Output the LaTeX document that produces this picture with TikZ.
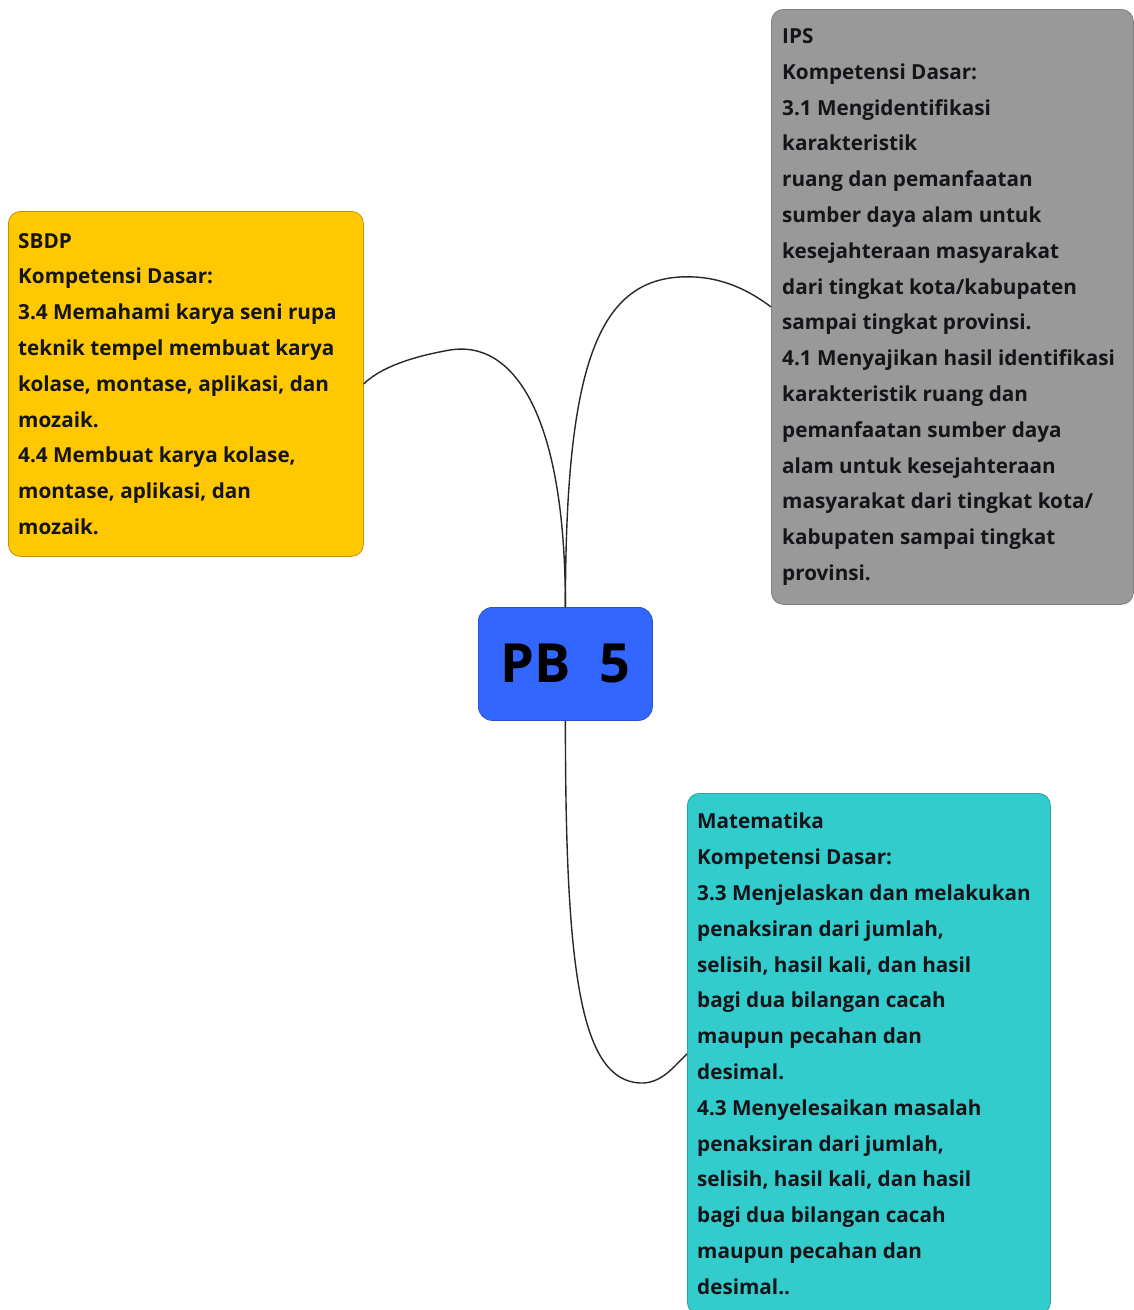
\documentclass[tikz,border=0pt]{standalone}
\usepackage{fontspec}
\usetikzlibrary{calc}
\setmainfont{Open Sans}
\definecolor{sbdpfill}{RGB}{255,200,0}
\definecolor{ipsfill}{RGB}{153,153,153}
\definecolor{matfill}{RGB}{51,204,204}
\definecolor{pbfill}{RGB}{51,102,255}
\definecolor{txt}{RGB}{20,20,25}
\definecolor{linkc}{RGB}{40,40,40}
\begin{document}
\begin{tikzpicture}[x=1pt,y=-1pt,
  topicbox/.style={rounded corners=12pt, line width=0.8pt, anchor=north west, inner sep=0pt},
  topictext/.style={anchor=west, inner sep=0pt, align=left, text=txt,
    font=\bfseries\fontsize{20.7}{35.8}\selectfont},
  center/.style={rounded corners=14pt, draw=pbfill!80!black, fill=pbfill, line width=0.8pt,
    minimum width=174pt, minimum height=113pt, anchor=north west, text=black,
    font=\bfseries\fontsize{54}{60}\selectfont},
  link/.style={draw=linkc, line width=1.4pt}]
\useasboundingbox (0,0) rectangle (1134,1310);
\fill[white] (0,0) rectangle (1134,1310);
\begin{scope}
\clip (0,0) rectangle (1134,1310);
\node[center] (pb) at (478,607) {PB~~5};
\node[topicbox, fill=sbdpfill, draw=sbdpfill!75!black, minimum width=355pt, minimum height=345pt] (sbdp) at (8,211) {};
\node[topictext] (sbdpt) at ($(sbdp.west)+(10,0)$)
{SBDP\\Kompetensi Dasar:\\3.4 Memahami karya seni rupa\\teknik tempel membuat karya\\kolase, montase, aplikasi, dan\\mozaik.\\4.4 Membuat karya kolase,\\montase, aplikasi, dan\\mozaik.};
\node[topicbox, fill=ipsfill, draw=ipsfill!85!black, minimum width=362pt, minimum height=595pt] (ips) at (771,9) {};
\node[topictext] (ipst) at ($(ips.west)+(11,0)$)
{IPS\\Kompetensi Dasar:\\3.1 Mengidentifikasi\\karakteristik\\ruang dan pemanfaatan\\sumber daya alam untuk\\kesejahteraan masyarakat\\dari tingkat kota/kabupaten\\sampai tingkat provinsi.\\4.1 Menyajikan hasil identifikasi\\karakteristik ruang dan\\pemanfaatan sumber daya\\alam untuk kesejahteraan\\masyarakat dari tingkat kota/\\kabupaten sampai tingkat\\provinsi.};
\node[topicbox, fill=matfill, draw=matfill!80!black, minimum width=363pt, minimum height=521pt] (mat) at (687,793) {};
\node[topictext] (matt) at ($(mat.west)+(10,0)$)
{Matematika\\Kompetensi Dasar:\\3.3 Menjelaskan dan melakukan\\penaksiran dari jumlah,\\selisih, hasil kali, dan hasil\\bagi dua bilangan cacah\\maupun pecahan dan\\desimal.\\4.3 Menyelesaikan masalah\\penaksiran dari jumlah,\\selisih, hasil kali, dan hasil\\bagi dua bilangan cacah\\maupun pecahan dan\\desimal..};
\end{scope}
\draw[link] (pb.north) .. controls ($(pb.north)+(0,-200)$) and (510,340) .. (450,350) .. controls (410,357) and (380,368) .. (sbdp.east);
\draw[link] (pb.north) .. controls ($(pb.north)+(0,-250)$) and (600,272) .. (695,277) .. controls (730,279) and (755,295) .. (ips.west);
\draw[link] (pb.south) .. controls ($(pb.south)+(0,250)$) and (580,1080) .. (640,1083) .. controls (662,1084) and (675,1065) .. (mat.west);
\end{tikzpicture}
\end{document}
